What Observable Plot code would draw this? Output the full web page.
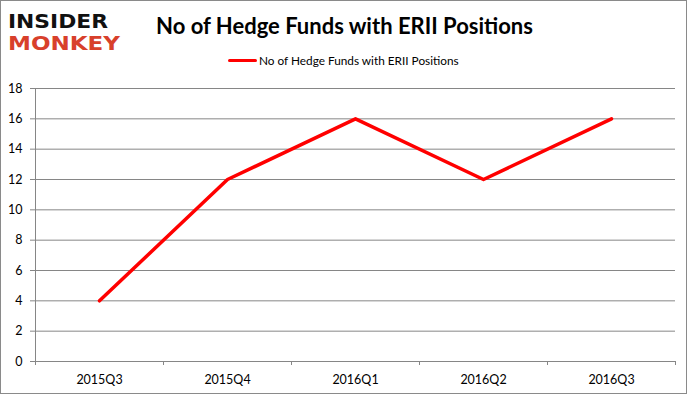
<!DOCTYPE html>
<html>
<head>
<meta charset="utf-8">
<script src="https://cdn.jsdelivr.net/npm/d3@7"></script>
<script src="https://cdn.jsdelivr.net/npm/@observablehq/plot@0.6"></script>
<style>
  html, body { margin: 0; padding: 0; background: #fff; }
  #wrap { position: relative; width: 689px; height: 396px; overflow: hidden; }
  #frame { position: absolute; left: 0; top: 0; width: 687px; height: 394px; border: 1px solid #8a8a8a; box-sizing: border-box; pointer-events: none; }
  #chart { position: absolute; left: 0; top: 0; }
  #title { position: absolute; left: 0; width: 689px; top: 12px; text-align: center; font-family: Lato, "Open Sans", sans-serif; font-weight: bold; font-size: 22px; color: #000; }
  #legend { position: absolute; left: 228px; top: 53px; font-family: Lato, "Open Sans", sans-serif; font-size: 11.8px; color: #000; display: flex; align-items: center; }
  #legend .sw { width: 29px; height: 3.5px; background: #ff0000; border-radius: 2px; margin-right: 2px; }
  #logo { position: absolute; left: 7px; top: 4px; }
</style>
</head>
<body>
<div id="wrap">
  <div id="chart"></div>
  <svg id="logo" width="122" height="54">
    <text x="1" y="24" textLength="100" lengthAdjust="spacingAndGlyphs" font-family="DejaVu Sans" font-weight="bold" font-size="19" fill="#111">INSIDER</text>
    <text x="1" y="46" textLength="112" lengthAdjust="spacingAndGlyphs" font-family="DejaVu Sans" font-weight="bold" font-size="19" fill="#d8402b">MONKEY</text>
  </svg>
  <div id="title">No of Hedge Funds with ERII Positions</div>
  <div id="legend"><span class="sw"></span><span>No of Hedge Funds with ERII Positions</span></div>
  <div id="frame"></div>
</div>
<script>
const categories = ["2015Q3", "2015Q4", "2016Q1", "2016Q2", "2016Q3"];
const values = [4, 12, 16, 12, 16];
const yTicks = [0, 2, 4, 6, 8, 10, 12, 14, 16, 18];

const data = categories.map((c, i) => ({i, c, v: values[i]}));
const idx = categories.map((c, i) => i);
const bounds = [...idx.map(i => i - 0.5), categories.length - 0.5];

const chart = Plot.plot({
  width: 689,
  height: 396,
  marginTop: 88,
  marginBottom: 35,
  marginLeft: 35,
  marginRight: 14,
  x: {type: "linear", domain: [-0.5, categories.length - 0.5]},
  y: {domain: [0, 18]},
  style: {fontFamily: "Lato, 'Open Sans', sans-serif", fontSize: "12.5px", color: "#000", background: "transparent"},
  marks: [
    Plot.gridY(yTicks, {stroke: "#868686", strokeOpacity: 1, strokeWidth: 1}),
    Plot.ruleX([-0.5], {stroke: "#868686", strokeWidth: 1}),
    Plot.axisY(yTicks, {tickSize: 5, tickPadding: 8, stroke: "#868686", fill: "#000", label: null, tickFormat: d => String(d)}),
    Plot.axisX(bounds, {tickSize: 4, tickPadding: 0, stroke: "#868686", tickFormat: () => "", label: null}),
    Plot.axisX(idx, {tickSize: 0, tickPadding: 14, fill: "#000", tickFormat: i => categories[i], label: null}),
    Plot.line(data, {x: "i", y: "v", stroke: "#ff0000", strokeWidth: 3.5})
  ]
});
document.getElementById("chart").appendChild(chart);
</script>
</body>
</html>
